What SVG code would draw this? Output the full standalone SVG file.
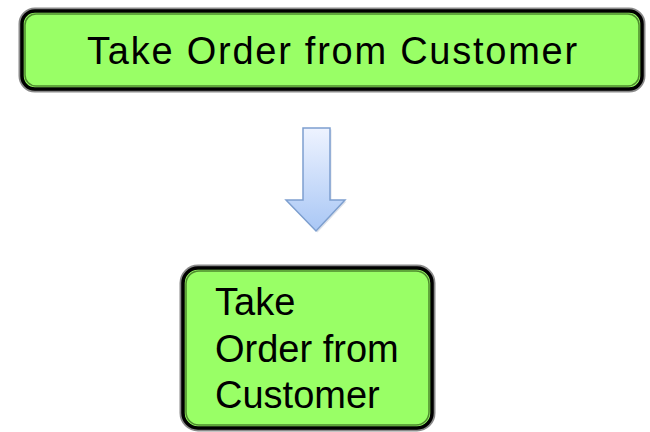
<svg xmlns="http://www.w3.org/2000/svg" width="650" height="432" viewBox="0 0 650 432">
<style>
.halo{fill:none;stroke:#8a8a8a;stroke-width:7}
.box{fill:#99ff66;stroke:#000;stroke-width:3.5}
.inner{fill:none;stroke:#4e8a2e;stroke-width:1.5}
.t{font-family:"Liberation Sans",Arial,sans-serif;font-size:38px;fill:#000}
</style>
<defs>
<linearGradient id="ag" x1="0" y1="0" x2="0" y2="1">
<stop offset="0" stop-color="#eef3ff"/>
<stop offset="1" stop-color="#a9c7f5"/>
</linearGradient>
</defs>
<g id="node1">
<rect class="halo" x="22" y="11" width="620" height="78" rx="13"/>
<rect class="box" x="22" y="11" width="620" height="78" rx="13"/>
<rect class="inner" x="25" y="14" width="614" height="72" rx="11"/>
<text class="t" x="333" y="64" text-anchor="middle" letter-spacing="1.75">Take Order from Customer</text>
</g>
<g id="connectors">
<path d="M303,128 H330 V200 H345 L316,231 L286,200 H303 Z" fill="#9aa8c0" opacity="0.35" transform="translate(1.5,1.5)"/>
<path d="M303,128 H330 V200 H345 L316,231 L286,200 H303 Z" fill="url(#ag)" stroke="#7d9fcf" stroke-width="1.5" stroke-linejoin="miter"/>
</g>
<g id="node2">
<rect class="halo" x="183" y="268" width="249" height="160" rx="15"/>
<rect class="box" x="183" y="268" width="249" height="160" rx="15"/>
<rect class="inner" x="186" y="271" width="243" height="154" rx="13"/>
<text class="t" x="215" y="315">Take</text>
<text class="t" x="215" y="362">Order from</text>
<text class="t" x="215" y="408">Customer</text>
</g>
</svg>
